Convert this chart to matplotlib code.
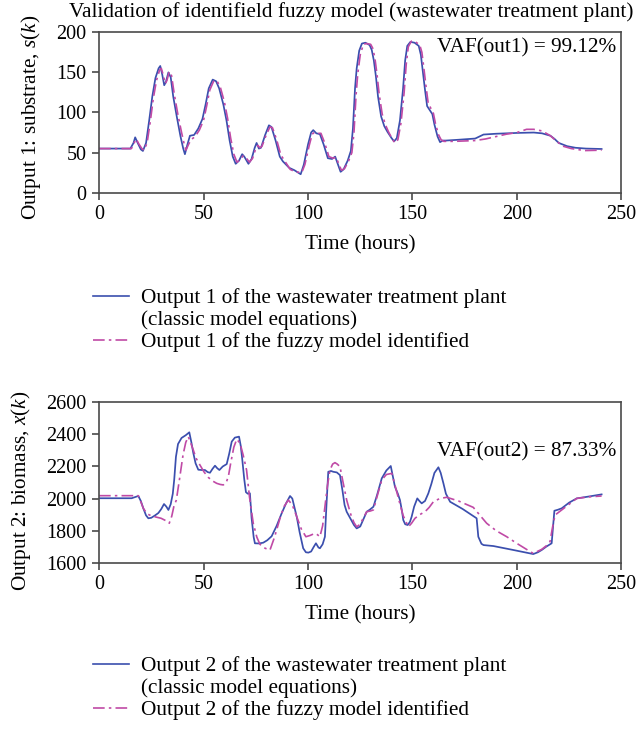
import numpy as np
import matplotlib
matplotlib.use('Agg')
import matplotlib.pyplot as plt
from matplotlib.lines import Line2D

plt.rcParams['font.family'] = ['Liberation Serif', 'DejaVu Serif']
plt.rcParams['mathtext.fontset'] = 'custom'
plt.rcParams['mathtext.rm'] = 'Liberation Serif'
plt.rcParams['mathtext.it'] = 'Liberation Serif:italic'

# output 1: substrate, plant (classic model)
t1_plant = [0, 15, 16.5, 17.3, 18.5, 20, 21, 22.5, 24, 25.5, 27, 28.5, 29.3, 30.2, 31.2, 32, 33.2,
            34.3, 35.5, 37.2, 39, 40.3, 41.1, 42.3, 43.5, 45.5, 47.5, 49.5, 51, 52.5, 54.4, 56,
            57.5, 59.5, 61, 62.5, 64, 65.4, 67, 68.5, 69.5, 71.5, 73, 74.5, 75.4, 76.5, 77.5,
            79.5, 81.3, 82.5, 84.5, 86.5, 88, 91, 93.5, 96.5, 98, 100, 101.5, 102.5, 104, 105.7,
            107.5, 109.5, 111.5, 113, 114.5, 115.6, 117, 119, 120.5, 121.5, 122.5, 123.3, 124.5,
            125.8, 127.5, 129.5, 130.5, 131.5, 132.5, 133.5, 135, 136.5, 138, 140, 141.2, 142.5,
            144, 145.5, 146.5, 147.5, 149, 151, 153, 154, 155, 156, 157, 158.5, 159.5, 160.5,
            162, 163.2, 164.5, 166, 172, 180, 182, 184, 190, 200, 208, 212, 216, 218, 220, 224,
            228, 233, 240.5]
s_plant = [55, 55, 62, 69, 62, 54, 52, 62, 90, 120, 143, 155, 158, 148, 134, 138, 150,
           144, 120, 95, 70, 55, 48, 60, 71, 72, 80, 92, 110, 130, 141, 139,
           130, 110, 90, 65, 45, 36, 40, 48, 45, 36, 42, 56, 62, 55, 56,
           72, 84, 82, 65, 45, 39, 31, 28, 23, 35, 60, 75, 78, 74, 73,
           60, 43, 42, 45, 34, 26, 29, 40, 52, 80, 130, 155, 177,
           186, 187, 184, 178, 165, 145, 120, 95, 83, 76, 68, 64, 68,
           90, 130, 165, 183, 188, 187, 183, 172, 150, 128, 108, 102, 98, 85,
           70, 63, 65, 65, 66, 67.5, 70, 72.5, 73.5, 74.5, 75, 74, 71, 67, 62, 58,
           56, 55, 54.5]

# output 1: substrate, identified fuzzy model
t1_fuzzy = [0, 15.5, 17, 17.8, 19, 20.5, 21.5, 23, 24.5, 26, 27.5, 29, 29.8, 30.7, 31.7, 32.5,
            33.6, 34.7, 36, 37.7, 39.5, 40.8, 41.6, 42.8, 44, 46, 48, 50, 51.5, 53, 55, 56.5,
            58, 60, 61.5, 63, 64.5, 66, 67.5, 69, 70.2, 72, 73.5, 75, 76, 77, 78, 80, 81.8, 83,
            85, 87, 88.5, 91.5, 94, 97, 98.5, 100.5, 102, 103, 104.5, 106.2, 108, 110, 112,
            113.5, 115, 116, 117.5, 119.5, 121, 122, 123, 123.8, 125, 126.5, 128, 130, 131, 132,
            133, 134, 135.5, 137, 138.5, 140.5, 141.7, 143, 144.5, 146, 147, 148, 149.5, 151.5,
            153.5, 154.5, 155.5, 156.5, 157.5, 159, 160, 161, 162.5, 163.7, 165, 170, 180, 185,
            190, 195, 200, 204.6, 208, 212, 216, 219, 222, 226, 232.4, 240.5]
s_fuzzy = [55, 55, 63, 67, 61, 55, 53, 62, 88, 118, 140, 153, 155, 147, 136, 140,
           151, 146, 123, 98, 75, 60, 53, 60, 66, 70, 78, 90, 108, 128, 140, 139,
           132, 113, 93, 68, 48, 38, 41, 46, 44, 38, 43, 55, 59, 56, 58, 72, 82, 81,
           66, 47, 41, 29, 26, 25, 35, 58, 73, 75, 74, 74, 62, 45, 43,
           44, 34, 28, 30, 40, 50, 75, 122, 148, 172, 185, 186, 185, 180, 168,
           148, 124, 98, 85, 76, 66, 62, 66, 87, 125, 160, 182, 189, 188,
           184, 175, 154, 132, 112, 104, 99, 86, 72, 66, 64, 64, 65, 67,
           70, 73, 75, 79, 79, 77, 71, 64, 58, 55, 52.5, 53]

# output 2: biomass, plant (classic model)
t2_plant = [0, 15.6, 17, 18.8, 20, 21.2, 22.5, 23.6, 25, 26.8, 28.4, 29.8, 31.1, 32.2, 33.2,
            34.3, 35.3, 36, 36.8, 37.8, 39.5, 41.5, 43.2, 44.2, 45.1, 46.2, 47.5, 49, 50.7, 52,
            53.1, 54.3, 55.5, 56.5, 57.6, 59.2, 61.1, 62.3, 63.5, 65, 67, 67.8, 68.5, 69.5,
            70.3, 71.2, 72.2, 73, 74, 74.6, 76.5, 78.6, 80.5, 82.6, 85, 87.4, 89.5, 91.4, 92.5,
            94.6, 96, 97.7, 99, 100.2, 101.5, 102.8, 103.8, 105, 105.7, 107, 108.1, 108.8,
            109.7, 111, 112.1, 113.8, 115.3, 116.5, 117.5, 118.5, 120.5, 122, 123.3, 125,
            126.5, 128.1, 129.5, 131.3, 133, 135.3, 137.5, 139.6, 140.6, 141.6, 143, 144, 145,
            145.6, 146.5, 147.7, 148.8, 149.6, 150.8, 152.3, 153.3, 154.4, 156, 157.6, 159,
            160.5, 162.4, 163.5, 164.8, 166, 168, 174, 180.7, 181.5, 183, 184, 188.7, 198,
            207.8, 210, 211.8, 214, 216.6, 217.3, 217.9, 219.5, 221.4, 225, 228.6, 234, 240.5]
x_plant = [2002, 2002, 2008, 2016, 1985, 1939, 1895, 1877, 1880, 1895, 1910, 1935, 1966, 1950, 1929,
           1965, 2030, 2120, 2260, 2340, 2378, 2395, 2413, 2350, 2285, 2220, 2180, 2178, 2178, 2165,
           2161, 2185, 2205, 2190, 2178, 2200, 2215, 2280, 2355, 2380, 2386, 2330, 2250, 2120,
           2040, 2030, 2033, 1880, 1760, 1721, 1720, 1725, 1740, 1765, 1830, 1908, 1970, 2016, 2000,
           1887, 1790, 1690, 1665, 1663, 1670, 1700, 1721, 1695, 1690, 1715, 1762, 1950,
           2167, 2172, 2167, 2163, 2146, 2050, 1960, 1918, 1870, 1835, 1814, 1826,
           1870, 1918, 1930, 1949, 2020, 2126, 2175, 2203, 2140, 2074, 2030, 1991, 1920,
           1866, 1840, 1835, 1855, 1887, 1950, 2001, 1985, 1970, 1985, 2033, 2090,
           2160, 2195, 2160, 2095, 2030, 1980, 1935, 1877, 1762, 1718, 1710, 1704, 1680,
           1654, 1665, 1679, 1700, 1721, 1830, 1924, 1930, 1939, 1975, 2001, 2012, 2026]

# output 2: biomass, identified fuzzy model
t2_fuzzy = [0, 18.8, 20, 21.2, 23, 25.2, 27.5, 29.7, 32, 33.6, 34.8, 35.8, 37, 38.5, 40.2, 41.5,
            42.7, 43.8, 45.1, 46.5, 48.3, 50.3, 52.3, 54.3, 56.3, 58, 59.5, 61, 61.9, 63, 64.5,
            65.9, 67.5, 69, 70.6, 72, 73.8, 75.5, 77, 79.5, 81.8, 84, 86.6, 88.5, 90.6, 92.5,
            94.6, 96.8, 99, 101, 103.3, 104.5, 105.7, 107, 108.1, 109.3, 110.5, 111.8, 112.9,
            114, 115.3, 116.8, 118.5, 120.5, 122, 123.3, 125, 126.5, 128.1, 129.7, 131.3, 133,
            135.3, 137.5, 140.1, 141.8, 143.5, 145.5, 148, 149.5, 151.2, 153.5, 156, 158, 160,
            163, 166.4, 172, 179.1, 182, 185.5, 190, 195.1, 200, 204.6, 207.8, 211.8, 214,
            215.8, 217, 218.2, 221.4, 225, 228.6, 234, 240.5]
x_fuzzy = [2018, 2018, 1980, 1939, 1905, 1891, 1884, 1877, 1862, 1846, 1890, 1950, 1991, 2120, 2272, 2350,
           2386, 2350, 2303, 2250, 2209, 2165, 2132, 2110, 2095, 2088, 2085, 2105, 2138, 2220, 2320,
           2370, 2345, 2270, 2178, 2010, 1846, 1760, 1715, 1690, 1679, 1760, 1877, 1950, 1991, 1960,
           1887, 1810, 1762, 1770, 1783, 1775, 1762, 1830, 1949, 2080, 2178, 2215, 2224,
           2215, 2199, 2100, 1991, 1900, 1850, 1824, 1840, 1880, 1918, 1922, 1929, 2010,
           2116, 2150, 2157, 2075, 1991, 1895, 1824, 1845, 1877, 1900, 1918, 1945, 1980,
           2000, 2008, 1985, 1945, 1900, 1846, 1800, 1762, 1720, 1683, 1658, 1683, 1705,
           1731, 1820, 1897, 1929, 1965, 2001, 2010, 2016]

blue = '#3b4fae'
pink = '#c04aa6'
dashdot = (0, (7, 2.5, 1.5, 2.5))
spine_c = '#4a4a4a'
fs = 15.3

fig = plt.figure(figsize=(6.43, 7.29), dpi=100)
ax1 = fig.add_axes([0.154, 0.7357, 0.8125, 0.2200])
ax2 = fig.add_axes([0.154, 0.2281, 0.8125, 0.2200])

ax1.plot(t1_plant, s_plant, color=blue, lw=1.25)
ax1.plot(t1_fuzzy, s_fuzzy, color=pink, lw=1.2, ls=dashdot)
ax2.plot(t2_plant, x_plant, color=blue, lw=1.25)
ax2.plot(t2_fuzzy, x_fuzzy, color=pink, lw=1.2, ls=dashdot)

ax1.set_xlim(0, 250)
ax1.set_ylim(0, 200)
ax1.set_yticks([0, 50, 100, 150, 200])
ax2.set_xlim(0, 250)
ax2.set_ylim(1600, 2600)
ax2.set_yticks([1600, 1800, 2000, 2200, 2400, 2600])

for ax in (ax1, ax2):
    ax.set_xticks([0, 50, 100, 150, 200, 250])
    ax.tick_params(labelsize=14.5, direction='out', length=5, color=spine_c, width=1.2, pad=4)
    for sp in ax.spines.values():
        sp.set_color(spine_c)
        sp.set_linewidth(1.2)
    ax.set_xlabel('Time (hours)', fontsize=fs, labelpad=8)

ax1.set_ylabel('Output 1: substrate, $s$($k$)', fontsize=fs)
ax2.set_ylabel('Output 2: biomass, $x$($k$)', fontsize=fs)
ax1.yaxis.set_label_coords(-0.107, 0.47)
ax2.yaxis.set_label_coords(-0.127, 0.45)

ax1.text(161.5, 180, 'VAF(out1) = 99.12%', fontsize=fs, ha='left', va='center')
ax2.text(161.5, 2290, 'VAF(out2) = 87.33%', fontsize=fs, ha='left', va='center')

fig.text(0.546, 0.983, 'Validation of identifield fuzzy model (wastewater treatment plant)',
         fontsize=fs, ha='center', va='center')

blank = Line2D([], [], color='none')
for n, y0 in ((1, 0.561), (2, 0.056)):
    handles = [Line2D([], [], color=blue, lw=1.2), blank,
               Line2D([], [], color=pink, lw=1.2, ls=dashdot)]
    labels = ['Output %d of the wastewater treatment plant' % n,
              '(classic model equations)',
              'Output %d of the fuzzy model identified' % n]
    fig.legend(handles, labels, loc='center left', bbox_to_anchor=(0.1446, y0),
               frameon=False, fontsize=fs, handlelength=1.68, labelspacing=0.1,
               handletextpad=0.58, borderpad=0, borderaxespad=0)

fig.savefig('out.png', dpi=100)
